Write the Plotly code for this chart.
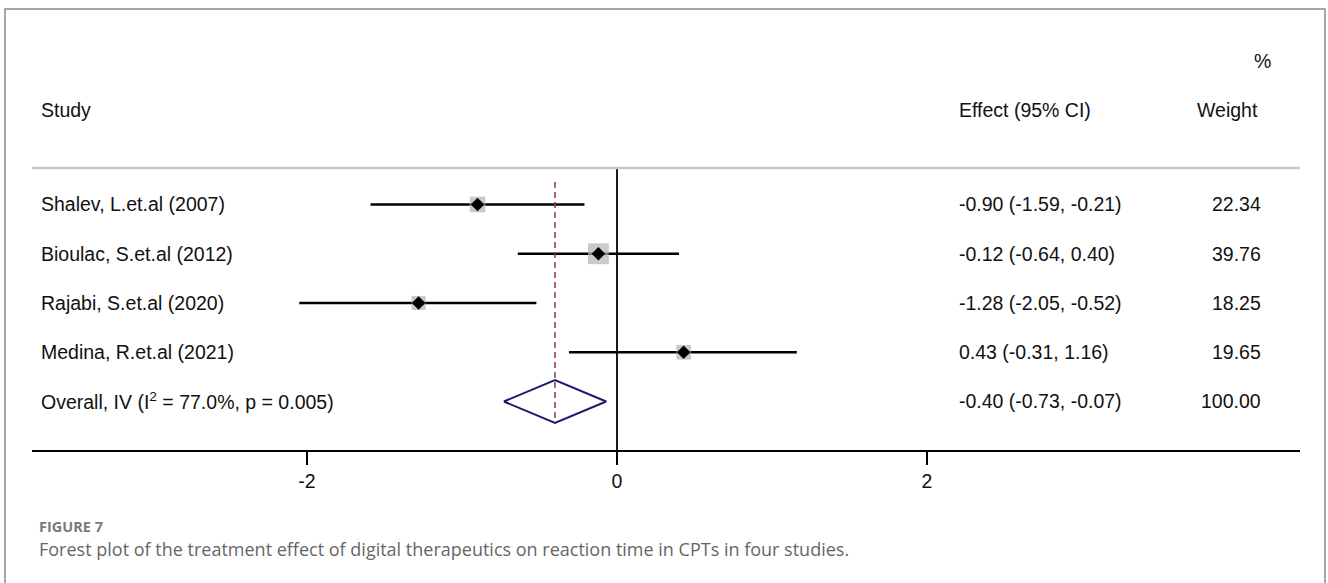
import plotly.graph_objects as go

# ---- data ----
studies = ["Shalev, L.et.al (2007)", "Bioulac, S.et.al (2012)",
           "Rajabi, S.et.al (2020)", "Medina, R.et.al (2021)"]
effect = [-0.90, -0.12, -1.28, 0.43]
ci_low = [-1.59, -0.64, -2.05, -0.31]
ci_high = [-0.21, 0.40, -0.52, 1.16]
weight = [22.34, 39.76, 18.25, 19.65]

overall_label = "Overall, IV (I<sup>2</sup> = 77.0%, p = 0.005)"
overall_effect = -0.40
overall_low = -0.73
overall_high = -0.07
overall_weight = 100.00

tick_vals = [-2, 0, 2]
tick_text = ["-2", "0", "2"]

caption_title = "FIGURE 7"
caption_text = ("Forest plot of the treatment effect of digital therapeutics on "
                "reaction time in CPTs in four studies.")

# ---- styling ----
FONT = "Liberation Sans, Arial, Helvetica, sans-serif"
TXT = "#111111"
FS = 19.5

rows = list(range(len(studies)))
overall_row = len(studies)

fig = go.Figure()

# CI lines
for i in rows:
    fig.add_trace(go.Scatter(x=[ci_low[i], ci_high[i]], y=[i, i], mode="lines",
                             line=dict(color="black", width=2.5),
                             hoverinfo="skip", showlegend=False))

# weight squares
fig.add_trace(go.Scatter(x=effect, y=rows, mode="markers",
                         marker=dict(symbol="square", color="#b4b4b4",
                                     size=[3.3 * w ** 0.5 for w in weight],
                                     line=dict(width=0)),
                         hoverinfo="skip", showlegend=False))
# point estimates
fig.add_trace(go.Scatter(x=effect, y=rows, mode="markers",
                         marker=dict(symbol="diamond", color="black", size=10.5,
                                     line=dict(width=0)),
                         hoverinfo="skip", showlegend=False))

# overall dashed line
dh = 0.437
fig.add_trace(go.Scatter(x=[overall_effect, overall_effect],
                         y=[-0.457, overall_row + dh], mode="lines",
                         line=dict(color="#8b3a4a", width=1.5, dash="6px,4px"),
                         hoverinfo="skip", showlegend=False))

# overall diamond
fig.add_trace(go.Scatter(
    x=[overall_low, overall_effect, overall_high, overall_effect, overall_low],
    y=[overall_row, overall_row - dh, overall_row, overall_row + dh, overall_row],
    mode="lines", line=dict(color="#1c1c6e", width=2),
    hoverinfo="skip", showlegend=False))

# zero line
fig.add_shape(type="line", xref="x", yref="paper", x0=0, x1=0, y0=0, y1=1,
              line=dict(color="black", width=1.8), layer="below")
# top gray rule
fig.add_shape(type="line", xref="paper", yref="paper", x0=0, x1=1, y0=1, y1=1,
              line=dict(color="#c8c8c8", width=2.5))
# outer frame
fig.add_shape(type="rect", xref="paper", yref="paper", x0=-0.0213, x1=1.0197,
              y0=-0.7, y1=1.5638, line=dict(color="#8a8a8a", width=1.5))

ann = []
def txt(x, y, s, xa="left", yref="y", size=FS, color=TXT, family=FONT):
    ann.append(dict(x=x, y=y, xref="paper", yref=yref, text=s, showarrow=False,
                    xanchor=xa, yanchor="middle",
                    font=dict(family=family, size=size, color=color)))

X_LABEL = 0.0055
X_EFFECT = 0.7295
X_WEIGHT = 0.9708

# headers
txt(X_LABEL, 1.2057, "Study", yref="paper")
txt(X_EFFECT, 1.2057, "Effect (95% CI)", yref="paper")
txt(0.9685, 1.2057, "Weight", xa="right", yref="paper")
txt(0.9787, 1.379, "%", xa="right", yref="paper")

for i in rows:
    txt(X_LABEL, i, studies[i])
    txt(X_EFFECT, i, f"{effect[i]:.2f} ({ci_low[i]:.2f}, {ci_high[i]:.2f})")
    txt(X_WEIGHT, i, f"{weight[i]:.2f}", xa="right")

txt(X_LABEL, overall_row, overall_label)
txt(X_EFFECT, overall_row,
    f"{overall_effect:.2f} ({overall_low:.2f}, {overall_high:.2f})")
txt(X_WEIGHT, overall_row, f"{overall_weight:.2f}", xa="right")

# caption
txt(0.0043, -0.273, f"<b>{caption_title}</b>", yref="paper", size=14.5,
    color="#7a7a7a", family="Open Sans, Noto Sans, sans-serif")
txt(0.0043, -0.351, caption_text, yref="paper", size=18,
    color="#666666", family="Open Sans, Noto Sans, sans-serif")

fig.update_layout(
    width=1328, height=583,
    margin=dict(l=32, r=28, t=168, b=133),
    paper_bgcolor="white", plot_bgcolor="white",
    showlegend=False,
    annotations=ann,
    xaxis=dict(range=[-3.774, 4.406], tickvals=tick_vals, ticktext=tick_text,
               ticks="outside", ticklen=13, tickwidth=1.5, tickcolor="black",
               showline=True, linecolor="black", linewidth=2,
               showgrid=False, zeroline=False, fixedrange=True,
               tickfont=dict(family=FONT, size=FS, color=TXT)),
    yaxis=dict(range=[4.985, -0.741], visible=False, fixedrange=True),
)

fig.write_html("out.html",
               config={"displayModeBar": False, "staticPlot": True},
               post_script="document.body.style.margin='0';"
                           "document.body.style.overflow='hidden';")
